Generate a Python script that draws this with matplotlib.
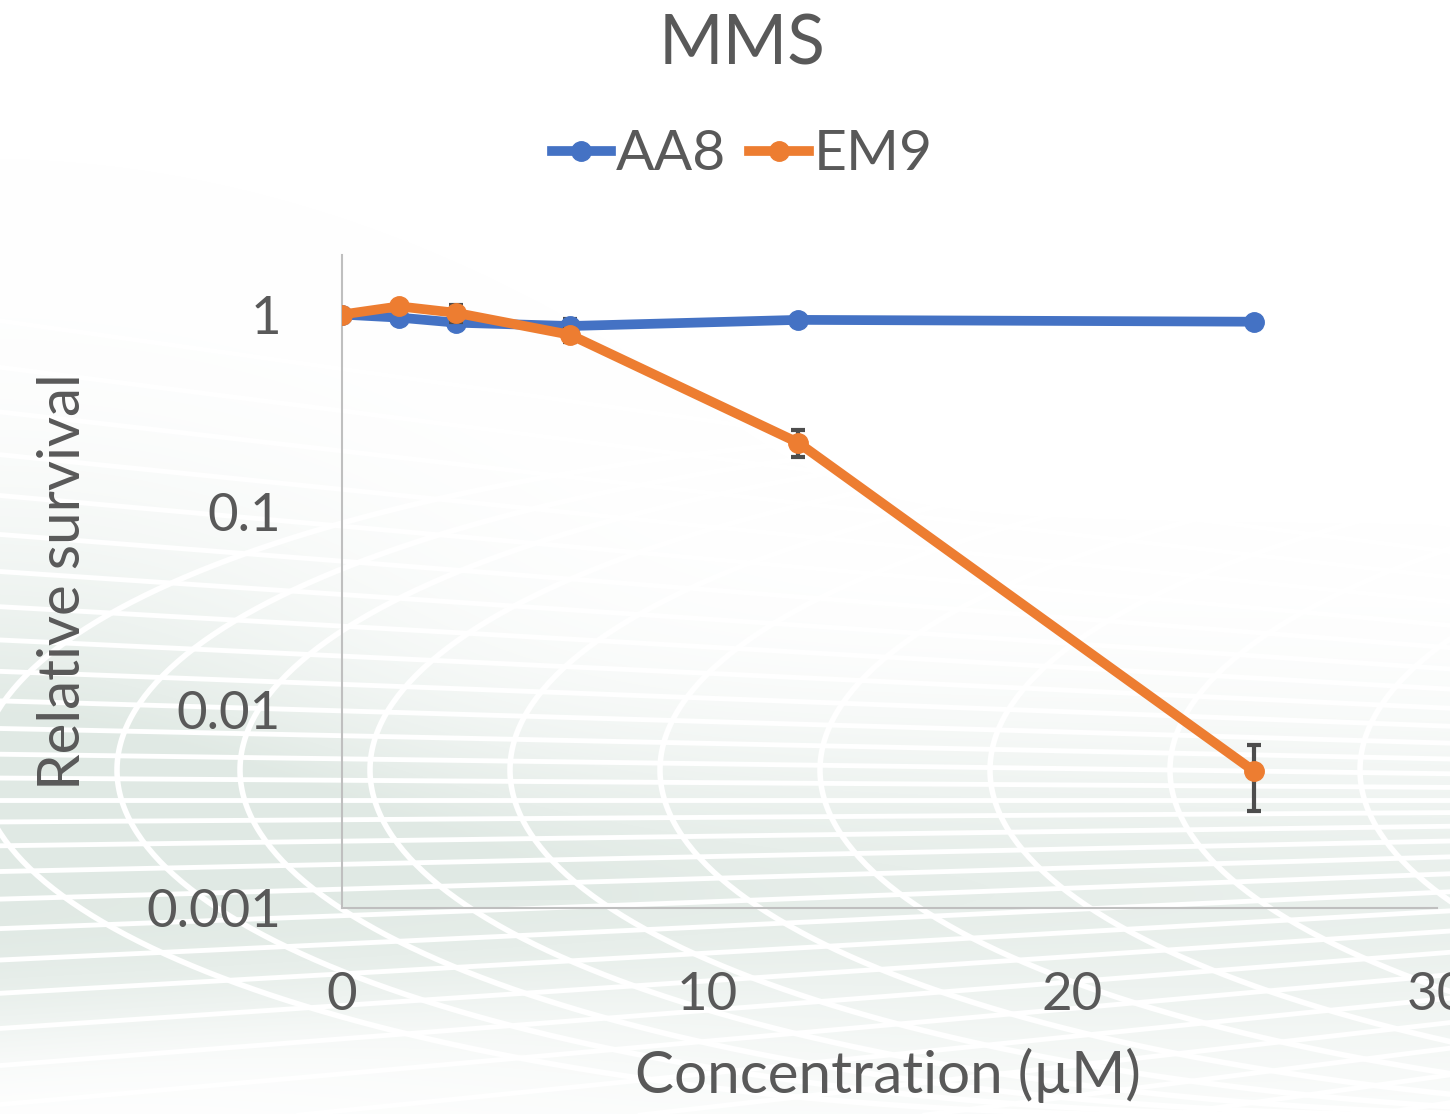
import numpy as np
import matplotlib.pyplot as plt
from matplotlib.lines import Line2D

conc = [0, 1.5625, 3.125, 6.25, 12.5, 25]
aa8 = [1.0, 0.965, 0.91, 0.875, 0.94, 0.92]
aa8_err = [0, 0, 0, 0.07, 0, 0]
em9 = [1.0, 1.10, 1.02, 0.79, 0.225, 0.0049]
em9_err = [0, 0, 0.10, 0.06, 0.035, 0.0018]

blue = '#4472C4'
orange = '#ED7D31'
grey = '#595959'

plt.rcParams['font.family'] = ['Lato', 'DejaVu Sans']

fig = plt.figure(figsize=(14.5, 11.14), dpi=100)

# faint template backdrop: pale wash cut by a warped white grid
bg = fig.add_axes([0, 0, 1, 1], zorder=-5)
bg.set_xlim(0, 1450)
bg.set_ylim(1114, 0)
bg.axis('off')
yy, xx = np.mgrid[0:1114, 0:1450]
alpha = 0.75 * np.exp(-((yy - 900) / 170.0) ** 2)
alpha += 0.6 * np.exp(-(xx / 420.0) ** 2) / (1 + np.exp(-(yy - 560) / 80.0)) * (yy < 900)
alpha *= 1 - 0.3 * (xx / 1450.0)
alpha *= 1 - 0.8 / (1 + np.exp(-(yy - 1060 + 0.12 * xx) / 25.0)) * np.exp(-(xx / 700.0) ** 2)
alpha = np.clip(alpha, 0, 0.75)
wash = np.zeros((1114, 1450, 4))
wash[..., 0] = 0.84
wash[..., 1] = 0.89
wash[..., 2] = 0.86
wash[..., 3] = alpha
bg.imshow(wash, extent=(0, 1450, 1114, 0), aspect='auto', zorder=0)

# near-horizontal bands running towards a far vanishing point
vx, vy = 3400, 800
xs = np.array([0, 1450])
for k in range(-14, 16):
    y0 = vy + np.sign(k) * 21 * abs(k) * (1 + 0.045 * abs(k))
    bg.plot(xs, y0 + (vy - y0) * xs / vx, color='white', lw=3.5, zorder=1)

# curved cross lines
t = np.linspace(np.pi / 2, 3 * np.pi / 2, 300)
for left in [-20, 117, 240, 370, 510, 660, 820, 990, 1170, 1360]:
    bg.plot(left + 1200 + 1200 * np.cos(t), 770 + 300 * np.sin(t) * 1.15,
            color='white', lw=4, zorder=1)

ax = fig.add_axes([342 / 1450, 1 - 908 / 1114, (1437 - 342) / 1450, (908 - 255) / 1114])
ax.patch.set_alpha(0)

ax.errorbar(conc, aa8, yerr=aa8_err, color=blue, lw=7, marker='o', ms=14,
            ecolor='#4d4d4d', elinewidth=3, capsize=5, capthick=3, zorder=3)
ax.errorbar(conc, em9, yerr=em9_err, color=orange, lw=7, marker='o', ms=14,
            ecolor='#4d4d4d', elinewidth=3, capsize=5, capthick=3, zorder=4)

ax.set_yscale('log')
ax.set_xlim(0, 30)
ax.set_ylim(0.001, 2.0)
ax.set_xticks([0, 10, 20, 30])
ax.set_yticks([0.001, 0.01, 0.1, 1])
ax.set_yticklabels(['0.001', '0.01', '0.1', '1'])
ax.minorticks_off()
ax.tick_params(length=0, labelsize=38, colors=grey)
ax.tick_params(axis='x', pad=46)
ax.tick_params(axis='y', pad=44)
for s in ['top', 'right']:
    ax.spines[s].set_visible(False)
for s in ['left', 'bottom']:
    ax.spines[s].set_color('#bfbfbf')
    ax.spines[s].set_linewidth(1.5)

ax.set_xlabel('Concentration (µM)', fontsize=42, color=grey)
ax.set_ylabel('Relative survival', fontsize=42, color=grey)
ax.xaxis.set_label_coords((888 - 342) / (1437 - 342), -(1048 - 908) / (908 - 255))
ax.yaxis.set_label_coords(-0.23, 0.5)

fig.text(742 / 1450, 1 - 45 / 1114, 'MMS', ha='center', va='center', fontsize=50, color=grey)

handles = [Line2D([], [], color=blue, lw=7, marker='o', ms=14),
           Line2D([], [], color=orange, lw=7, marker='o', ms=14)]
fig.legend(handles, ['AA8', 'EM9'], loc='center', bbox_to_anchor=(742 / 1450, 1 - 155 / 1114),
           ncol=2, frameon=False, fontsize=41, labelcolor=grey, handlelength=1.05,
           handletextpad=0.08, columnspacing=0.4)

fig.savefig('out.png', dpi=100)
